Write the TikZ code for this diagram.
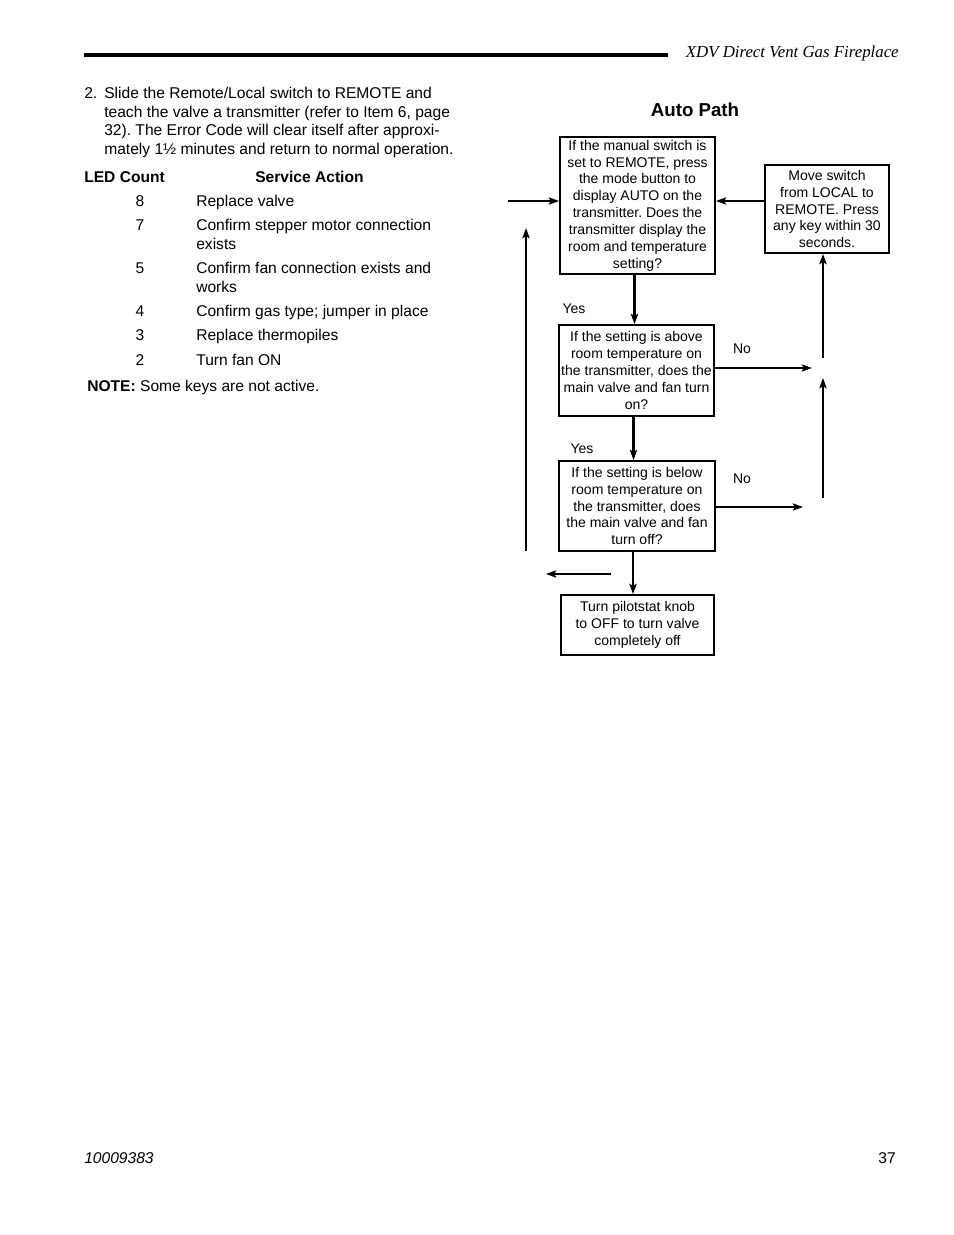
\documentclass[tikz,border=0pt]{standalone}
\usepackage{fontspec}
\setmainfont{Liberation Sans}
\newfontfamily\headfont{Liberation Serif}
\usetikzlibrary{arrows.meta}
\def\px{0.6415pt}
\frenchspacing

\begin{document}
\begin{tikzpicture}[
    x=0.6415pt, y=-0.6415pt,
    body/.style = {inner sep=0pt, font=\fontsize{10}{12}\selectfont},
    box/.style 2 args = {draw, line width=1.2pt, align=center, inner sep=0pt,
                minimum width=#1*\px, minimum height=#2*\px,
                font=\fontsize{9}{10.8}\selectfont},
    lbl/.style = {inner sep=0pt, font=\fontsize{9}{10.8}\selectfont},
    arr/.style = {line width=1.3pt, -{Stealth[length=6.5pt,width=4.6pt,inset=1.2pt]}}
                    ]
        \useasboundingbox[fill=white] (0,0) rectangle (954,1235);
        % header and footer
        \draw [line width=2.4pt] (84,55) -- (668,55);
        \node[anchor=base east, inner sep=0pt, font=\headfont\itshape\fontsize{10.8}{13}\selectfont] (head) at (899,57) {XDV Direct Vent Gas Fireplace};
        \node[body, anchor=base west, font=\itshape\fontsize{10}{12}\selectfont] (docno) at (84,1163) {10009383};
        \node[body, anchor=base east] (page) at (896,1163) {37};
        % item 2
        \node[body, anchor=base west] (item) at (84,98.5) {2.};
        \node[body, anchor=base west] (l1) at (104,98.5) {Slide the Remote/Local switch to REMOTE and};
        \node[body, anchor=base west] (l2) at (104,117) {teach the valve a transmitter (refer to Item 6, page};
        \node[body, anchor=base west] (l3) at (104,135.5) {32). The Error Code will clear itself after approxi-};
        \node[body, anchor=base west] (l4) at (104,154) {mately 1½ minutes and return to normal operation.};
        % LED table
        \node[body, anchor=base west, font=\bfseries\fontsize{10}{12}\selectfont] (ledhead) at (84,182) {LED Count};
        \node[body, anchor=base west, font=\bfseries\fontsize{10}{12}\selectfont] (acthead) at (255,182) {Service Action};
        \foreach \y/\n in {206/8, 230/7, 273/5, 316/4, 340/3, 365/2}
            \node[body, anchor=base] (led\n) at (140,\y) {\n};
        \foreach \y/\n/\t in {206/a/Replace valve, 230/b/Confirm stepper motor connection, 249/c/exists,
                             273/d/Confirm fan connection exists and, 292/e/works,
                             316/f/Confirm gas type; jumper in place, 340/g/Replace thermopiles, 365/h/Turn fan ON}
            \node[body, anchor=base west] (act\n) at (196,\y) {\t};
        \node[body, anchor=base west] (note) at (87,391) {\textbf{NOTE:} Some keys are not active.};
        % auto path flowchart
        \node[inner sep=0pt, font=\bfseries\fontsize{12}{14}\selectfont] (title) at (695,110) {Auto Path};
        \node[box={155}{137}] (check) at (637.5,205.5) {If the manual switch is\\set to REMOTE, press\\the mode button to\\display AUTO on the\\transmitter. Does the\\transmitter display the\\room and temperature\\setting?};
        \node[box={124}{88}] (switch) at (827,209) {Move switch\\from LOCAL to\\REMOTE. Press\\any key within 30\\seconds.};
        \node[box={155}{91}] (heat) at (636.5,370.5) {If the setting is above\\room temperature on\\the transmitter, does the\\main valve and fan turn\\on?};
        \node[box={156}{90}] (cool) at (637,506) {If the setting is below\\room temperature on\\the transmitter, does\\the main valve and fan\\turn off?};
        \node[box={153}{60}] (knob) at (637.5,625) {Turn pilotstat knob\\to OFF to turn valve\\completely off};
        \node[lbl] (yes1) at (574,309) {Yes};
        \node[lbl] (no1) at (742,349) {No};
        \node[lbl] (yes2) at (582,449) {Yes};
        \node[lbl] (no2) at (742,479) {No};
        % loose ends
        \coordinate (in) at (508,201);
        \coordinate (noheat) at (812,368);
        \coordinate (nocool) at (803,507);
        \coordinate (backa) at (611,574);
        \coordinate (backb) at (546,574);
        \coordinate (upa) at (526,551);
        \coordinate (upb) at (526,228);
        \coordinate (rta) at (823,358);
        \coordinate (rtb) at (823,498);
        \coordinate (rtc) at (823,378);
        \draw [arr] (in) -- (in -| check.west);
        \draw [arr] (switch.west |- in) -- (check.east |- in);
        \draw [arr] ([xshift=-3*\px]check.south) -- ([xshift=-3*\px]check.south |- heat.north);
        \draw [arr] (heat.east |- noheat) -- (noheat);
        \draw [arr] ([xshift=-3*\px]heat.south) -- ([xshift=-3*\px]heat.south |- cool.north);
        \draw [arr] (cool.east |- nocool) -- (nocool);
        \draw [arr] ([xshift=-4*\px]cool.south) -- ([xshift=-4*\px]cool.south |- knob.north);
        \draw [arr] (backa) -- (backb);
        \draw [arr] (upa) -- (upb);
        \draw [arr] (rta) -- (rta |- switch.south);
        \draw [arr] (rtb) -- (rtc);
    \end{tikzpicture}
\end{document}
